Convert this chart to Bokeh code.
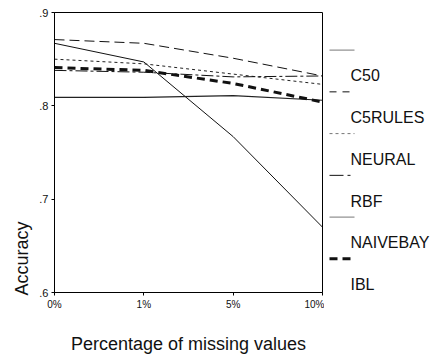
from bokeh.plotting import figure
from bokeh.layouts import row
from bokeh.models import Range1d, FixedTicker, Title
from bokeh.core.properties import value
from bokeh.embed import file_html
from bokeh.resources import INLINE

categories = ["0%", "1%", "5%", "10%"]
series_names = ["C50", "C5RULES", "NEURAL", "RBF", "NAIVEBAY", "IBL"]
c50 = [0.867, 0.847, 0.767, 0.670]
c5rules = [0.871, 0.867, 0.851, 0.832]
neural = [0.850, 0.845, 0.834, 0.823]
rbf = [0.838, 0.836, 0.831, 0.832]
naivebay = [0.809, 0.809, 0.811, 0.806]
ibl = [0.841, 0.838, 0.824, 0.804]
y_ticks = [0.6, 0.7, 0.8, 0.9]
y_tick_labels = [".6", ".7", ".8", ".9"]

series = [c50, c5rules, neural, rbf, naivebay, ibl]
styles = [
    dict(line_color="#111111", line_width=1, line_dash="solid"),
    dict(line_color="#111111", line_width=1, line_dash="10 5"),
    dict(line_color="#222222", line_width=1, line_dash="3 3"),
    dict(line_color="#111111", line_width=1, line_dash="12 3 3 3"),
    dict(line_color="#222222", line_width=1.2, line_dash="solid"),
    dict(line_color="#111111", line_width=3, line_dash="8 5"),
]
legend_styles = [
    dict(line_color="#777777", line_width=1, line_dash="solid"),
    dict(line_color="#111111", line_width=1, line_dash="7 6"),
    dict(line_color="#777777", line_width=1, line_dash="3 3"),
    dict(line_color="#111111", line_width=1, line_dash="14 4 3 4"),
    dict(line_color="#777777", line_width=1, line_dash="solid"),
    dict(line_color="#111111", line_width=3, line_dash="8 5"),
]

FONT = "Liberation Sans"
xs = list(range(len(categories)))

p = figure(width=324, height=356, output_backend="svg", toolbar_location=None,
           x_range=Range1d(0, len(categories) - 1), y_range=Range1d(0.6, 0.9),
           min_border_left=54, min_border_right=2, min_border_top=12, min_border_bottom=61)
p.grid.visible = False
p.outline_line_color = "black"
p.outline_line_width = 1
p.background_fill_color = "white"
p.border_fill_color = "white"

for vals, st in zip(series, styles):
    p.line(xs, vals, **st)

p.xaxis.ticker = FixedTicker(ticks=xs)
p.xaxis.major_label_overrides = {i: c for i, c in enumerate(categories)}
p.yaxis.ticker = FixedTicker(ticks=y_ticks)
p.yaxis.major_label_overrides = {t: l for t, l in zip(y_ticks, y_tick_labels)}
for ax in (p.xaxis[0], p.yaxis[0]):
    ax.minor_tick_line_color = None
    ax.major_tick_out = 3
    ax.major_tick_in = 0
    ax.major_label_text_font = FONT
    ax.major_label_text_color = "#111111"
    ax.axis_label_text_font = FONT
    ax.axis_label_text_font_size = "18px"
    ax.axis_label_text_font_style = "normal"
    ax.axis_label_text_color = "#111111"
    ax.axis_line_color = "black"
p.xaxis.major_label_text_font_size = "10px"
p.yaxis.major_label_text_font_size = "11px"
p.xaxis.axis_label = "Percentage of missing values"
p.xaxis.axis_label_standoff = 21
p.xaxis.major_label_standoff = 3
p.yaxis.major_label_standoff = 3

# y-axis title, aligned to the bottom as in the reference
p.add_layout(Title(text="Accuracy", align="left", offset=-3, standoff=10,
                   text_font=FONT, text_font_size="18px", text_font_style="normal",
                   text_color="#111111"), "left")

# legend panel (frame aligns with main frame: y 12..295, x 324..431 page px)
LW = 107
lg = figure(width=LW, height=356, output_backend="svg", toolbar_location=None,
            x_range=Range1d(324, 324 + LW), y_range=Range1d(295, 12),
            min_border_left=0, min_border_right=0, min_border_top=12, min_border_bottom=61)
lg.axis.visible = False
lg.grid.visible = False
lg.outline_line_color = None
lg.border_fill_color = "white"
lg.background_fill_color = "white"

text_y = [76 + 42.2 * i for i in range(len(series_names))]
for i, (name, st) in enumerate(zip(series_names, legend_styles)):
    sy = text_y[i] - 26
    lg.line([329, 354], [sy, sy], **st)
lg.text(x=[350] * len(series_names), y=text_y, text=series_names,
        text_font=value(FONT), text_font_size="16px", text_color="#111111",
        text_baseline="middle", text_align="left")

layout = row(p, lg, spacing=0)
open("out.html", "w").write(file_html(layout, INLINE))
